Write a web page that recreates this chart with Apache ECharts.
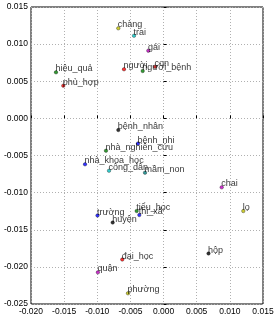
<!DOCTYPE html>
<html>
<head>
<meta charset="utf-8">
<script src="https://cdn.jsdelivr.net/npm/echarts@6/dist/echarts.min.js"></script>
<style>html,body{margin:0;padding:0;background:#fff}#c{width:278px;height:326px}</style>
</head>
<body>
<div id="c"></div>
<script>
var words = ['chàng','trai','gái','người','người_bệnh','con','hiệu_quả','phù_hợp','bệnh_nhân','bệnh_nhi','nhà_nghiên_cứu','nhà_khoa_học','công_dân','mầm_non','chai','trường','huyện','tiểu_học','thị_xã','lọ','hộp','đại_học','quận','phường'];
var xs = [-0.00683,-0.00446,-0.00230,-0.00597,-0.00315,-0.00129,-0.01623,-0.01513,-0.00683,-0.00386,-0.00869,-0.01185,-0.00823,-0.00280,0.00877,-0.00997,-0.00768,-0.00406,-0.00366,0.01203,0.00678,-0.00623,-0.00991,-0.00537];
var ys = [0.01213,0.01113,0.00911,0.00661,0.00638,0.00696,0.00620,0.00440,-0.00157,-0.00339,-0.00436,-0.00619,-0.00705,-0.00732,-0.00929,-0.01308,-0.01403,-0.01248,-0.01302,-0.01248,-0.01820,-0.01901,-0.02074,-0.02356];
var xTicks = [-0.020,-0.015,-0.010,-0.005,0.000,0.005,0.010,0.015];
var yTicks = [-0.025,-0.020,-0.015,-0.010,-0.005,0.000,0.005,0.010,0.015];
var colors = ['#bfbf00','#00bfbf','#bf00bf','#ff0000','#008000','#bf0000','#008000','#ff0000','#000000','#0000ff','#008000','#0000ff','#00bfbf','#008080','#bf00bf','#0000ff','#000000','#008000','#0000ff','#bfbf00','#000000','#ff0000','#bf00bf','#bfbf00'];

var FONT = 'Liberation Sans';
var data = words.map(function(w,i){
  return {name:w, value:[xs[i], ys[i]], itemStyle:{color:colors[i]}};
});
var chart = echarts.init(document.getElementById('c'), null, {renderer:'canvas'});
function fmt(v){ return v.toFixed(3); }
chart.setOption({
  animation:false,
  grid:{left:31,right:15,top:7,bottom:22,show:true,borderColor:'#000',borderWidth:1,backgroundColor:'transparent'},
  xAxis:{type:'value',min:xTicks[0],max:xTicks[xTicks.length-1],interval:0.005,
    axisLine:{show:false},axisTick:{show:true,inside:true,length:3,lineStyle:{color:'#000'}},
    splitLine:{show:true,lineStyle:{color:'#b0b0b0',type:[1,2],width:1}},
    axisLabel:{formatter:fmt,color:'#000',fontFamily:FONT,fontSize:8.5,margin:3}},
  yAxis:{type:'value',min:yTicks[0],max:yTicks[yTicks.length-1],interval:0.005,
    axisLine:{show:false},axisTick:{show:true,inside:true,length:3,lineStyle:{color:'#000'}},
    splitLine:{show:true,lineStyle:{color:'#b0b0b0',type:[1,2],width:1}},
    axisLabel:{formatter:fmt,color:'#000',fontFamily:FONT,fontSize:8.5,margin:3}},
  series:[{type:'scatter',data:data,symbolSize:3.5,
    itemStyle:{borderColor:'#000',borderWidth:0.4},
    label:{show:true,formatter:'{b}',position:[1.5,3],align:'left',verticalAlign:'bottom',
      color:'#000',fontFamily:FONT,fontSize:9}}]
});
</script>
</body>
</html>
